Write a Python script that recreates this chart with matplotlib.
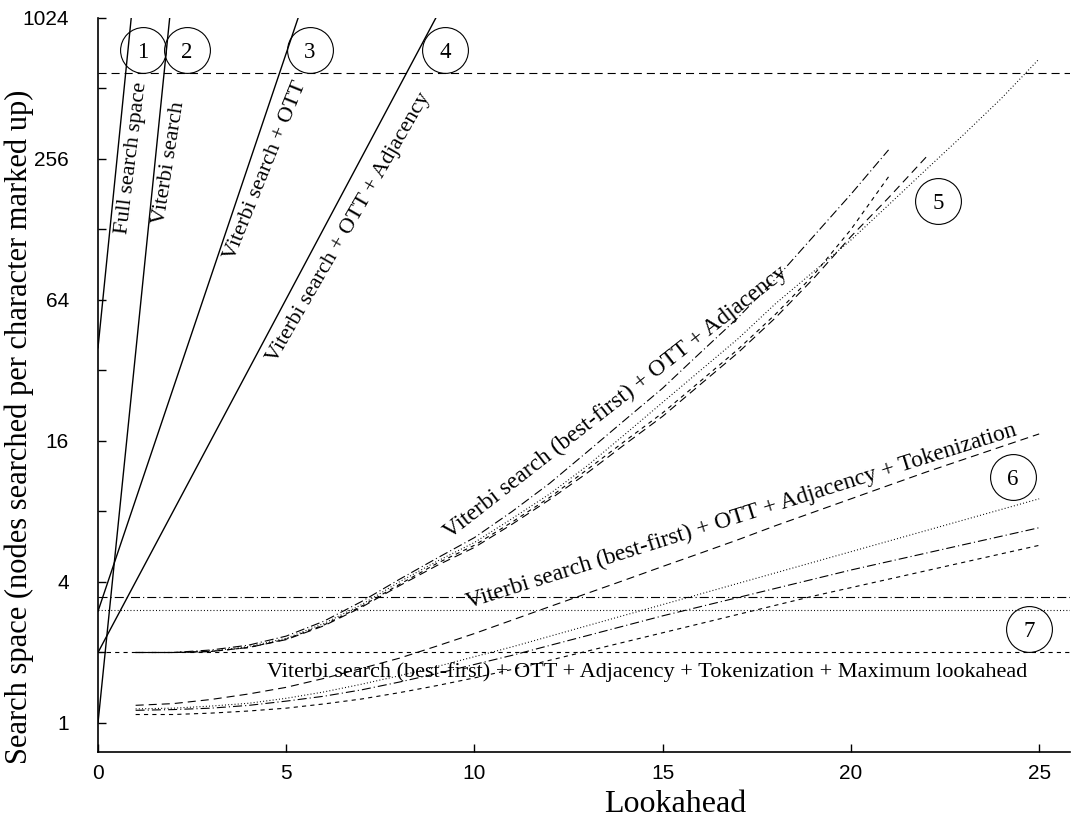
#!/usr/bin/env python
# Search space vs lookahead, log2 y axis, gnuplot-like black/white lines

import matplotlib as mpl; mpl.use("Agg")
import matplotlib.pyplot as plt
from matplotlib.ticker import FixedLocator, NullFormatter

rc = {
    "font.family": ["Liberation Serif", "DejaVu Serif"],
    "lines.scale_dashes": False,
    "axes.linewidth": 1.2,
}
mpl.rcParams.update(rc)

# Data
# ------------------------------------------------------------------------------
# straight (exponential) curves: value at the first and last lookahead
full_x = [0, 1]
full_y = [40, 1576]
viterbi_x = [0, 2]
viterbi_y = [1, 1450]
ott_x = [0, 6]
ott_y = [3.0, 2170]
adj_x = [0, 10]
adj_y = [2.0, 2090]

# best-first + OTT + Adjacency (four runs)
bf_dashdot = [2.0, 2.0, 2.05, 2.15, 2.35, 2.72, 3.3, 4.1, 5.05, 6.19, 8.0,
              10.56, 14.4, 19.7, 26.9, 38.1, 53.8, 78.8, 119.4, 181, 280]
bf_shortdash = [2.0, 2.0, 2.02, 2.1, 2.28, 2.62, 3.15, 3.9, 4.8, 5.74, 7.21,
                9.19, 12.1, 16.0, 21.1, 28.8, 39.4, 55.7, 81.6, 128, 215]
bf_longdash = [2.0, 2.0, 2.02, 2.1, 2.27, 2.6, 3.12, 3.85, 4.7, 5.62, 7.06,
               9.0, 11.7, 15.5, 20.4, 27.9, 38.1, 53.8, 78.8, 119.4, 174.9, 261]
bf_dotted = [2.0, 2.0, 2.03, 2.12, 2.3, 2.66, 3.2, 4.0, 4.9, 5.9, 7.46, 9.51,
             12.55, 17.1, 23.4, 32.0, 43.7, 61.8, 84.4, 115.4, 163, 231, 326,
             465, 685]

# best-first + OTT + Adjacency + Tokenization (four runs, lookahead 1..25)
tok_dashed = [1.19, 1.21, 1.26, 1.33, 1.42, 1.55, 1.71, 1.89, 2.13, 2.41, 2.75,
              3.14, 3.58, 4.08, 4.66, 5.31, 6.06, 6.96, 7.94, 9.06, 10.34,
              11.79, 13.36, 15.14, 17.15]
tok_dotted = [1.149, 1.157, 1.181, 1.214, 1.275, 1.357, 1.464, 1.591, 1.741,
              1.919, 2.114, 2.346, 2.603, 2.888, 3.204, 3.555, 3.945, 4.377,
              4.857, 5.389, 5.979, 6.634, 7.361, 8.168, 9.063]
tok_dashdot = [1.133, 1.141, 1.157, 1.189, 1.24, 1.301, 1.385, 1.495, 1.625,
               1.778, 1.945, 2.144, 2.362, 2.603, 2.868, 3.138, 3.434, 3.758,
               4.112, 4.5, 4.891, 5.315, 5.776, 6.276, 6.821]
tok_shortdash = [1.087, 1.087, 1.102, 1.125, 1.157, 1.206, 1.266, 1.347, 1.444,
                 1.558, 1.693, 1.853, 2.028, 2.219, 2.428, 2.657, 2.908, 3.182,
                 3.482, 3.784, 4.112, 4.469, 4.857, 5.278, 5.736]

# + Maximum lookahead (constant)
maxla_levels = [596, 3.45, 3.04, 2.0]

x_ticks = [0, 5, 10, 15, 20, 25]
y_major = [1, 4, 16, 64, 256, 1024]
y_minor = [2, 8, 32, 128, 512]

# Line styles (dash patterns in points)
# ------------------------------------------------------------------------------
LONG = (0, (5.8, 3.6))
SHORT = (0, (3.0, 3.0))
DOT = (0, (0.7, 1.6))
DASHDOT = (0, (6.5, 2.2, 0.8, 2.2))

def main():
    fig = plt.figure(figsize=(10.78, 8.25), dpi=100)
    ax = fig.add_axes([0.0909, 0.0885, 0.9017, 0.8897])
    ax.set_yscale("log", base=2)
    ax.set_xlim(0, 25.82)
    ax.set_ylim(0.752, 1024)

    solid = dict(color="black", lw=1.0)
    ax.plot(full_x, full_y, **solid)
    ax.plot(viterbi_x, viterbi_y, **solid)
    ax.plot(ott_x, ott_y, **solid)
    ax.plot(adj_x, adj_y, **solid)

    thin = dict(color="black", lw=0.8)
    ax.plot(range(1, len(bf_dashdot) + 1), bf_dashdot, ls=DASHDOT, **thin)
    ax.plot(range(1, len(bf_shortdash) + 1), bf_shortdash, ls=SHORT, **thin)
    ax.plot(range(1, len(bf_longdash) + 1), bf_longdash, ls=LONG, **thin)
    ax.plot(range(1, len(bf_dotted) + 1), bf_dotted, ls=DOT, **thin)

    ax.plot(range(1, len(tok_dashed) + 1), tok_dashed, ls=LONG, **thin)
    ax.plot(range(1, len(tok_dotted) + 1), tok_dotted, ls=DOT, **thin)
    ax.plot(range(1, len(tok_dashdot) + 1), tok_dashdot, ls=DASHDOT, **thin)
    ax.plot(range(1, len(tok_shortdash) + 1), tok_shortdash, ls=SHORT, **thin)

    for level, style in zip(maxla_levels, [LONG, DASHDOT, DOT, SHORT]):
        ax.axhline(level, ls=style, **thin)

    # labels along the curves
    curve_labels = [
        ("Full search space", 0.9, 258, 83, 16),
        ("Viterbi search", 1.9, 246, 81, 16),
        ("Viterbi search + OTT", 4.44, 229, 68, 16),
        ("Viterbi search + OTT + Adjacency", 6.67, 130, 60, 16),
        ("Viterbi search (best-first) + OTT + Adjacency", 13.76, 23.3, 38, 16.8),
        ("Viterbi search (best-first) + OTT + Adjacency + Tokenization",
         17.1, 7.6, 17.5, 16.8),
        ("Viterbi search (best-first) + OTT + Adjacency + Tokenization"
         " + Maximum lookahead", 14.58, 1.65, 0, 16),
    ]
    for text, x, y, rot, size in curve_labels:
        ax.text(x, y, text, fontsize=size, rotation=rot, rotation_mode="anchor",
                ha="center", va="center")

    # circled numbers
    callouts = [("1", 1.20, 749), ("2", 2.36, 749), ("3", 5.63, 749),
                ("4", 9.22, 749), ("5", 22.31, 169), ("6", 24.3, 11.2),
                ("7", 24.74, 2.52)]
    for num, x, y in callouts:
        ax.plot([x], [y], marker="o", ms=33, mfc="none", mec="black", mew=0.8,
                clip_on=False)
        ax.text(x, y, num, fontsize=16.5, ha="center", va="center_baseline")

    # axes
    ax.spines["top"].set_visible(False)
    ax.spines["right"].set_visible(False)
    ax.set_xticks(x_ticks)
    ax.set_xticklabels([str(t) for t in x_ticks])
    ax.set_yticks(y_major)
    ax.set_yticklabels([str(t) for t in y_major])
    ax.yaxis.set_minor_locator(FixedLocator(y_minor))
    ax.yaxis.set_minor_formatter(NullFormatter())
    ax.tick_params(which="both", direction="in", length=6, width=1.0)
    ax.tick_params(axis="y", pad=21, labelsize=15)
    ax.tick_params(axis="x", pad=9, labelsize=15)
    for lbl in ax.get_xticklabels() + ax.get_yticklabels():
        lbl.set_fontfamily(["Liberation Sans", "DejaVu Sans"])

    ax.set_xlabel("Lookahead", fontsize=23)
    ax.xaxis.set_label_coords(0.594, -0.0518)
    ax.set_ylabel("Search space (nodes searched per character marked up)",
                  fontsize=22)
    ax.yaxis.set_label_coords(-0.0658, 0.443)

    fig.savefig("out.png", dpi=100)

if __name__ == "__main__":
    main()
